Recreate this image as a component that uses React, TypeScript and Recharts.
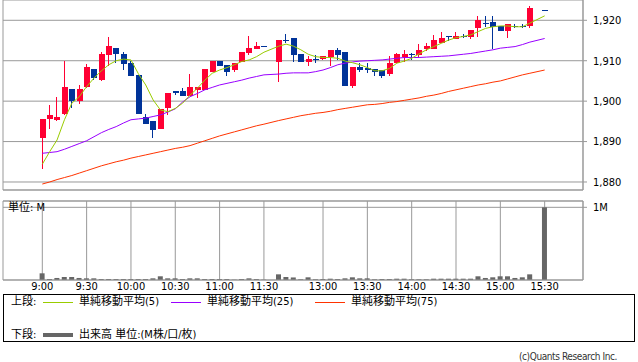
import React from 'react';
import { ComposedChart, Bar, Line, XAxis, YAxis, CartesianGrid, ReferenceLine } from 'recharts';

// 5-minute slots: 0 = 9:00 ... 30 = 11:30, 31 = lunch gap, 32 = 12:30 ... 68 = 15:30 (67 = closing auction, no trades)
const TICK_SLOTS = [0, 6, 12, 18, 24, 30, 38, 44, 50, 56, 62, 68];
const TIME_LABELS = ['9:00', '9:30', '10:00', '10:30', '11:00', '11:30', '13:00', '13:30', '14:00', '14:30', '15:00', '15:30'];
const PRICE_TICKS = [1880, 1890, 1900, 1910, 1920];

const opens = [
  1891.0, 1895.5, 1895.4, 1896.8, 1903.0, 1900.0, 1903.4, 1908.0, 1905.2, 1911.4,
  1913.2, 1911.6, 1909.5, 1906.5, 1896.1, 1895.1, 1893.0, 1898.2, 1902.4, 1902.5,
  1901.3, 1902.8, 1902.8, 1907.3, 1910.0, 1909.0, 1907.8, 1909.8, 1911.8, 1912.9,
  1913.6, null, 1909.8, 1915.1, 1915.6, 1911.7, 1909.8, 1910.4, 1910.4, 1910.9,
  1912.7, 1912.2, 1903.8, 1908.4, 1908.2, 1908.0, 1907.6, 1906.8, 1909.4, 1910.9,
  1911.7, 1911.4, 1912.9, 1912.9, 1914.5, 1916.1, 1915.4, 1916.1, 1915.9, 1918.0,
  1919.4, 1919.6, 1918.6, 1917.4, 1918.6, 1918.6, 1918.6, null, 1922.5,
];
const highs = [
  1895.6, 1899.0, 1901.0, 1910.0, 1903.0, 1904.0, 1909.3, 1908.0, 1912.2, 1915.8,
  1913.2, 1912.2, 1910.0, 1906.5, 1896.8, 1895.1, 1898.1, 1902.0, 1902.4, 1903.3,
  1906.8, 1903.5, 1908.0, 1910.0, 1910.0, 1909.0, 1909.5, 1912.2, 1916.2, 1914.7,
  1913.6, null, 1915.1, 1916.5, 1915.6, 1911.7, 1911.2, 1911.3, 1911.2, 1912.7,
  1913.2, 1912.2, 1908.5, 1909.4, 1909.4, 1908.0, 1907.6, 1911.2, 1911.8, 1912.7,
  1911.8, 1914.2, 1914.5, 1916.3, 1917.1, 1916.1, 1917.1, 1916.6, 1917.6, 1921.1,
  1921.1, 1921.1, 1918.6, 1919.1, 1919.1, 1919.1, 1923.5, null, 1922.5,
];
const lows = [
  1883.2, 1893.0, 1895.0, 1896.5, 1898.3, 1899.3, 1903.2, 1905.2, 1905.0, 1908.8,
  1909.5, 1907.7, 1906.3, 1896.8, 1894.3, 1891.0, 1893.0, 1896.5, 1901.5, 1901.3,
  1901.3, 1900.9, 1902.8, 1907.3, 1908.8, 1906.3, 1907.2, 1909.8, 1911.4, 1912.9,
  1913.6, null, 1904.8, 1914.3, 1909.8, 1909.8, 1908.8, 1909.4, 1910.2, 1908.8,
  1910.3, 1903.8, 1903.3, 1907.1, 1907.0, 1906.3, 1905.8, 1906.2, 1909.4, 1909.8,
  1910.3, 1910.8, 1912.5, 1912.9, 1914.5, 1915.0, 1915.4, 1915.5, 1915.4, 1915.9,
  1918.4, 1912.9, 1917.4, 1915.5, 1918.0, 1918.0, 1918.0, null, 1922.5,
];
const closes = [
  1895.6, 1896.6, 1896.2, 1903.5, 1900.0, 1903.0, 1908.5, 1905.7, 1911.7, 1913.7,
  1911.6, 1909.3, 1906.3, 1896.8, 1894.4, 1892.9, 1898.1, 1902.0, 1901.9, 1901.3,
  1903.5, 1903.5, 1908.0, 1910.0, 1908.8, 1907.3, 1909.5, 1912.2, 1913.2, 1913.6,
  1913.6, null, 1915.1, 1915.1, 1911.5, 1909.8, 1910.5, 1910.4, 1911.2, 1912.7,
  1911.5, 1903.8, 1908.5, 1907.7, 1907.7, 1907.1, 1906.3, 1909.5, 1911.6, 1911.7,
  1911.7, 1912.7, 1913.7, 1915.1, 1915.6, 1916.1, 1916.1, 1916.1, 1917.5, 1920.1,
  1919.4, 1918.4, 1917.4, 1919.1, 1918.6, 1918.6, 1923.0, null, 1922.5,
];

const ma5 = [
  1884.4, 1887.5, 1890.4, 1895.4, 1899.5, 1901.1, 1903.6, 1905.7, 1907.5, 1909.0,
  1910.0, 1910.4, 1910.2, 1906.8, 1904.0, 1900.3, 1897.8, 1897.4, 1898.2, 1899.5,
  1901.5, 1903.2, 1905.2, 1906.9, 1907.7, 1908.3, 1909.0, 1909.8, 1910.2, 1911.0,
  1912.1, null, 1913.6, 1914.1, 1913.6, 1912.7, 1911.6, 1911.0, 1910.8, 1910.8,
  1910.6, 1909.9, 1909.5, 1909.0, 1908.3, 1907.5, 1907.5, 1908.1, 1909.4, 1909.9,
  1910.6, 1911.7, 1912.7, 1913.5, 1914.3, 1915.1, 1915.7, 1916.0, 1916.4, 1917.2,
  1918.0, 1918.4, 1918.6, 1918.6, 1918.4, 1918.4, 1919.3, null, 1921.1,
];
const ma25 = [
  1887.1, 1887.3, 1887.5, 1888.1, 1888.8, 1889.5, 1890.2, 1891.2, 1892.2, 1893.0,
  1893.7, 1894.6, 1895.4, 1895.6, 1895.8, 1896.2, 1896.6, 1897.3, 1898.1, 1899.8,
  1901.1, 1901.9, 1902.8, 1903.4, 1904.0, 1904.4, 1904.8, 1905.2, 1905.7, 1906.1,
  1906.5, null, 1906.7, 1906.9, 1907.0, 1907.0, 1907.0, 1907.3, 1907.7, 1908.3,
  1909.0, 1909.4, 1909.7, 1909.9, 1910.0, 1910.1, 1910.2, 1910.4, 1910.6, 1910.8,
  1910.8, 1910.8, 1910.9, 1911.0, 1911.1, 1911.2, 1911.4, 1911.6, 1911.8, 1912.1,
  1912.4, 1912.7, 1913.1, 1913.3, 1913.5, 1914.0, 1914.6, null, 1915.5,
];
const ma75 = [
  1879.5, 1880.0, 1880.6, 1881.1, 1881.6, 1882.2, 1882.8, 1883.4, 1884.0, 1884.5,
  1885.0, 1885.4, 1885.9, 1886.3, 1886.7, 1887.1, 1887.5, 1887.9, 1888.3, 1888.6,
  1889.0, 1889.6, 1890.2, 1890.8, 1891.4, 1891.9, 1892.4, 1892.9, 1893.4, 1893.9,
  1894.3, null, 1895.2, 1895.6, 1896.0, 1896.4, 1896.7, 1897.0, 1897.2, 1897.5,
  1897.9, 1898.2, 1898.5, 1898.8, 1899.1, 1899.2, 1899.4, 1899.7, 1899.9, 1900.2,
  1900.5, 1900.8, 1901.2, 1901.5, 1901.9, 1902.4, 1902.8, 1903.2, 1903.6, 1904.0,
  1904.3, 1904.7, 1905.0, 1905.5, 1906.0, 1906.5, 1906.9, null, 1907.7,
];

// volume in thousands of shares
const volumes = [
  92, 14, 28, 41, 41, 28, 23, 23, 14, 14,
  14, 14, 14, 14, 14, 23, 51, 23, 23, 14,
  23, 23, 14, 14, 14, 14, 5, 14, 23, 14,
  5, null, 78, 41, 35, 10, 37, 10, 14, 18,
  14, 23, 37, 23, 23, 10, 14, 14, 18, 18,
  10, 10, 10, 18, 18, 18, 18, 18, 18, 51,
  28, 37, 51, 51, 28, 37, 78, null, 1000,
];

const UP = '#ff0033';
const DOWN = '#003399';
const GRID = '#999999';
const FONT = '"DejaVu Sans Condensed", "DejaVu Sans", "Noto Sans CJK JP", sans-serif';

const X_DOMAIN = [-5.32, 73.19];
const PRICE_DOMAIN = [1878.02, 1925.02];
const VOL_TOP = 1087;

const data = opens.map((o, i) => ({
  slot: i,
  open: o,
  close: closes[i],
  body: o == null ? null : [Math.min(o, closes[i] as number), Math.max(o, closes[i] as number)],
  wick: o == null ? null : [lows[i], highs[i]],
  ma5: ma5[i],
  ma25: ma25[i],
  ma75: ma75[i],
  vol: volumes[i],
}));

const candleRect = (props: any) => {
  const { x, y, width, height, payload } = props;
  if (!payload || payload.open == null) return <g />;
  const color = payload.close > payload.open ? UP : DOWN;
  let top = y;
  let h = height;
  if (h < 0) {
    top = y + h;
    h = -h;
  }
  return <rect x={x} y={top} width={width} height={Math.max(h, 1)} fill={color} shapeRendering="crispEdges" />;
};

const label: React.CSSProperties = { position: 'absolute', fontSize: 11, lineHeight: '12px', color: '#000', whiteSpace: 'nowrap' };

function PriceChart() {
  return (
    <ComposedChart width={638} height={192} data={data} margin={{ top: 0, right: 0, left: 3, bottom: 0 }}>
      <CartesianGrid stroke={GRID} />
      <XAxis type="number" dataKey="slot" domain={X_DOMAIN} allowDataOverflow ticks={TICK_SLOTS}
        tick={false} tickLine={false} axisLine={{ stroke: GRID }} height={2} />
      <XAxis xAxisId="w" type="number" dataKey="slot" domain={X_DOMAIN} allowDataOverflow hide />
      <XAxis xAxisId="b" type="number" dataKey="slot" domain={X_DOMAIN} allowDataOverflow hide />
      <YAxis orientation="right" domain={PRICE_DOMAIN} allowDataOverflow ticks={PRICE_TICKS} width={55}
        tickFormatter={(v) => Number(v).toLocaleString('en-US')} tickSize={4} tickMargin={6}
        tickLine={{ stroke: GRID }} axisLine={{ stroke: GRID }}
        tick={{ fill: '#000', fontSize: 11, fontFamily: FONT }} />
      <YAxis yAxisId="l" orientation="left" width={0} tick={false} tickLine={false} axisLine={{ stroke: GRID }} />
      <Bar xAxisId="w" dataKey="wick" barSize={1} shape={candleRect} isAnimationActive={false} />
      <Bar xAxisId="b" dataKey="body" barSize={6} shape={candleRect} isAnimationActive={false} />
      <Line dataKey="ma75" stroke="#ff3300" strokeWidth={1} dot={false} connectNulls isAnimationActive={false} />
      <Line dataKey="ma25" stroke="#9900ff" strokeWidth={1} dot={false} connectNulls isAnimationActive={false} />
      <Line dataKey="ma5" stroke="#99cc00" strokeWidth={1} dot={false} connectNulls isAnimationActive={false} />
    </ComposedChart>
  );
}

function VolumeChart() {
  return (
    <ComposedChart width={638} height={103} data={data} margin={{ top: 6, right: 0, left: 3, bottom: 0 }}>
      <CartesianGrid stroke={GRID} />
      <XAxis type="number" dataKey="slot" domain={X_DOMAIN} allowDataOverflow ticks={TICK_SLOTS}
        tickFormatter={(v) => TIME_LABELS[TICK_SLOTS.indexOf(v)] ?? ''} interval={0}
        tickLine={false} tickSize={0} tickMargin={2} axisLine={{ stroke: GRID }} height={18}
        tick={{ fill: '#000', fontSize: 11, fontFamily: FONT }} />
      <YAxis orientation="right" domain={[0, VOL_TOP]} allowDataOverflow ticks={[1000]} width={55}
        tickFormatter={() => '1M'} tickSize={4} tickMargin={6}
        tickLine={{ stroke: GRID }} axisLine={{ stroke: GRID }}
        tick={{ fill: '#000', fontSize: 11, fontFamily: FONT }} />
      <YAxis yAxisId="l" orientation="left" width={0} tick={false} tickLine={false} axisLine={{ stroke: GRID }} />
      <ReferenceLine y={VOL_TOP} stroke={GRID} />
      <Bar dataKey="vol" barSize={5} fill="#666666" isAnimationActive={false} />
    </ComposedChart>
  );
}

export default function App() {
  return (
    <div style={{ position: 'absolute', left: 0, top: 0, width: 638, height: 362, background: '#fff', fontFamily: FONT }}>
      <div style={{ position: 'absolute', left: 0, top: 0 }}>
        <PriceChart />
      </div>
      <div style={{ position: 'absolute', left: 0, top: 195 }}>
        <VolumeChart />
      </div>
      <div style={{ ...label, left: 8, top: 202 }}>単位: M</div>

      <div style={{ position: 'absolute', left: 3, top: 294, width: 632, height: 48, border: '1px solid #000', boxSizing: 'border-box' }} />
      <div style={{ ...label, left: 11, top: 296 }}>上段:</div>
      <div style={{ position: 'absolute', left: 43, top: 302, width: 30, height: 1, background: '#99cc00' }} />
      <div style={{ ...label, left: 79, top: 296 }}>単純移動平均(5)</div>
      <div style={{ position: 'absolute', left: 171, top: 302, width: 30, height: 1, background: '#9900ff' }} />
      <div style={{ ...label, left: 207, top: 296 }}>単純移動平均(25)</div>
      <div style={{ position: 'absolute', left: 315, top: 302, width: 30, height: 1, background: '#ff3300' }} />
      <div style={{ ...label, left: 351, top: 296 }}>単純移動平均(75)</div>
      <div style={{ ...label, left: 11, top: 329 }}>下段:</div>
      <div style={{ position: 'absolute', left: 43, top: 333, width: 30, height: 4, background: '#666666' }} />
      <div style={{ ...label, left: 79, top: 329 }}>出来高 単位:(M株/口/枚)</div>

      <div style={{ ...label, right: 21, top: 351, fontSize: 10, letterSpacing: -0.4, color: '#333', textAlign: 'right' }}>
        (c)Quants Research Inc.
      </div>
    </div>
  );
}
